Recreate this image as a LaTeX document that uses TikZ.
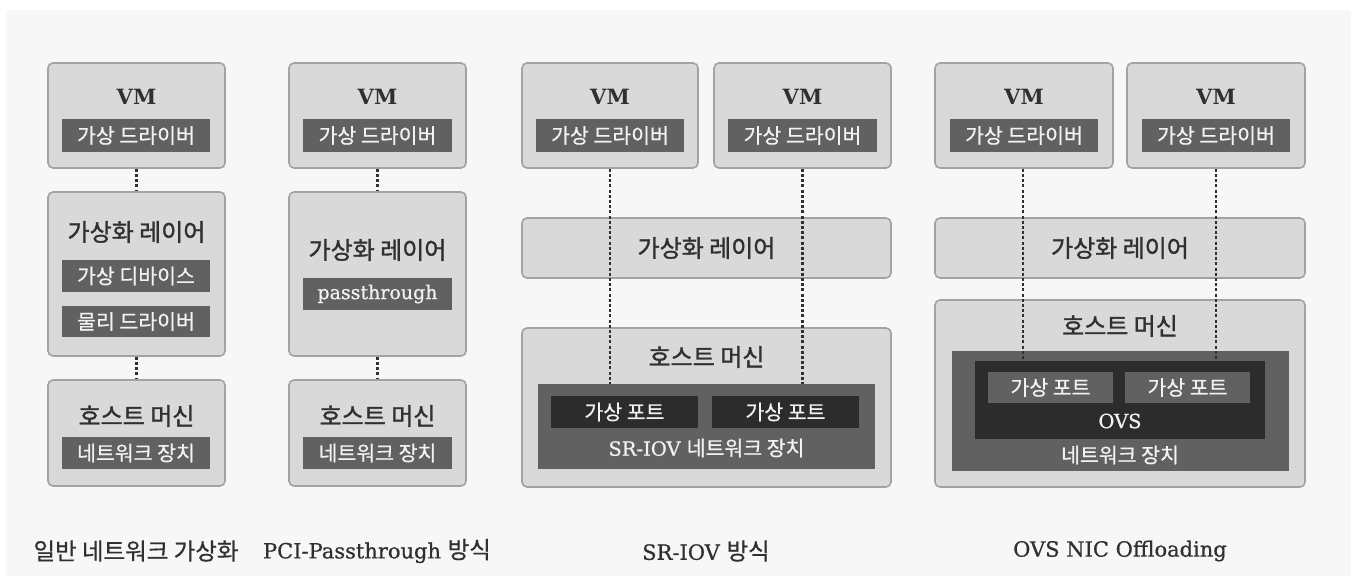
\documentclass[tikz,border=0pt]{standalone}
\usepackage{fontspec}
\setmainfont{DejaVu Serif}
\newfontfamily\lat{DejaVu Serif}[FakeBold=0.7]
\newfontfamily\kr{Noto Sans CJK KR}[FakeBold=0.6]
\newfontfamily\krt{Noto Sans CJK KR}[FakeBold=1.4]
\definecolor{bgpanel}{HTML}{F7F7F7}
\definecolor{boxfill}{HTML}{D9D9D9}
\definecolor{boxline}{HTML}{A3A3A3}
\definecolor{barfill}{HTML}{616161}
\definecolor{darkfill}{HTML}{2C2C2C}
\definecolor{txtdark}{HTML}{303030}
\definecolor{txtlight}{HTML}{F2F2F2}
\tikzset{
  panel/.style={draw=boxline, line width=1.6pt, fill=boxfill, rounded corners=5pt, inner sep=0pt},
  bar/.style={fill=barfill, inner sep=0pt, text=txtlight, font=\kr\fontsize{20.5}{22}\selectfont},
  darkbar/.style={fill=darkfill, inner sep=0pt, text=txtlight, font=\kr\fontsize{20.5}{22}\selectfont},
  vmlabel/.style={text=txtdark, font=\bfseries\fontsize{21}{23}\selectfont, inner sep=0pt},
  title/.style={text=txtdark, font=\krt\fontsize{24}{26}\selectfont, inner sep=0pt},
  sublabel/.style={text=txtlight, font=\lat\fontsize{19.5}{22}\selectfont, inner sep=0pt},
  caption/.style={text=txtdark, font=\lat\fontsize{21}{24}\selectfont, inner sep=0pt},
  link/.style={draw=txtdark, line width=2.2pt, dash pattern=on 3pt off 2.2pt},
}
\begin{document}
\begin{tikzpicture}[x=1pt,y=-1pt]
\useasboundingbox (0,0) rectangle (1351,576);
\fill[white] (0,0) rectangle (1351,576);
\fill[bgpanel] (6,10) rectangle (1351,576);

% ---------- column 1 ----------
\node[panel, minimum width=177pt, minimum height=105pt] (vmA) at (136.5,115.5) {};
\node[vmlabel] (vmAt) at (136.5,97) {VM};
\node[bar, minimum width=148pt, minimum height=33pt] (vmAd) at (136,135.5) {가상 드라이버};
\node[panel, minimum width=177pt, minimum height=164pt] (virA) at (136.5,274) {};
\node[title] (virAt) at (136.5,232) {가상화 레이어};
\node[bar, minimum width=148pt, minimum height=32pt] (virAd) at (136,276) {가상 디바이스};
\node[bar, minimum width=148pt, minimum height=31pt] (virAp) at (136,321.5) {물리 드라이버};
\node[panel, minimum width=177pt, minimum height=106pt] (hostA) at (136.5,433) {};
\node[title] (hostAt) at (136.5,416) {호스트 머신};
\node[bar, minimum width=148pt, minimum height=32pt] (hostAn) at (136,453) {네트워크 장치};
\draw[link] (vmA.south) -- (virA.north);
\draw[link] (virA.south) -- (hostA.north);
\node[caption, font=\kr\fontsize{23.5}{26}\selectfont] (capA) at (136,551) {일반 네트워크 가상화};

% ---------- column 2 ----------
\node[panel, minimum width=177pt, minimum height=105pt] (vmB) at (377.5,115.5) {};
\node[vmlabel] (vmBt) at (377.5,97) {VM};
\node[bar, minimum width=149pt, minimum height=33pt] (vmBd) at (377.5,135.5) {가상 드라이버};
\node[panel, minimum width=177pt, minimum height=164pt] (virB) at (377.5,274) {};
\node[title] (virBt) at (377.5,250) {가상화 레이어};
\node[bar, minimum width=149pt, minimum height=32pt, font=\lat\fontsize{19}{22}\selectfont] (virBp) at (377.5,294) {passthrough};
\node[panel, minimum width=177pt, minimum height=106pt] (hostB) at (377.5,433) {};
\node[title] (hostBt) at (377.5,416) {호스트 머신};
\node[bar, minimum width=149pt, minimum height=32pt] (hostBn) at (377.5,453) {네트워크 장치};
\draw[link] (vmB.south) -- (virB.north);
\draw[link] (virB.south) -- (hostB.north);
\node[caption] (capB) at (377,551) {PCI-Passthrough {\kr\fontsize{23.5}{26}\selectfont 방식}};

% ---------- column 3 ----------
\node[panel, minimum width=176pt, minimum height=105pt] (vmC1) at (610,115.5) {};
\node[vmlabel] (vmC1t) at (610,97) {VM};
\node[bar, minimum width=148pt, minimum height=33pt] (vmC1d) at (610,135.5) {가상 드라이버};
\node[panel, minimum width=177pt, minimum height=105pt] (vmC2) at (802.5,115.5) {};
\node[vmlabel] (vmC2t) at (802.5,97) {VM};
\node[bar, minimum width=149pt, minimum height=33pt] (vmC2d) at (802.5,135.5) {가상 드라이버};
\node[panel, minimum width=369pt, minimum height=60pt] (virC) at (706.5,248) {};
\node[title] (virCt) at (706.5,248) {가상화 레이어};
\node[panel, minimum width=369pt, minimum height=159pt] (hostC) at (706.5,407.5) {};
\node[title] (hostCt) at (706.5,357) {호스트 머신};
\node[bar, minimum width=337pt, minimum height=85pt] (srC) at (706.5,426.5) {};
\node[darkbar, minimum width=147pt, minimum height=32pt] (portC1) at (624.5,412) {가상 포트};
\node[darkbar, minimum width=147pt, minimum height=32pt] (portC2) at (785.5,412) {가상 포트};
\node[sublabel] (srCt) at (706.5,448) {SR-IOV {\kr\fontsize{20.5}{22}\selectfont 네트워크 장치}};
\draw[link] (vmC1.south) -- (vmC1.south |- srC.north);
\draw[link] (vmC2.south) -- (vmC2.south |- srC.north);
\node[caption] (capC) at (706,551) {SR-IOV {\kr\fontsize{23.5}{26}\selectfont 방식}};

% ---------- column 4 ----------
\node[panel, minimum width=178pt, minimum height=105pt] (vmD1) at (1024,115.5) {};
\node[vmlabel] (vmD1t) at (1024,97) {VM};
\node[bar, minimum width=148pt, minimum height=33pt] (vmD1d) at (1024,135.5) {가상 드라이버};
\node[panel, minimum width=178pt, minimum height=105pt] (vmD2) at (1216,115.5) {};
\node[vmlabel] (vmD2t) at (1216,97) {VM};
\node[bar, minimum width=148pt, minimum height=33pt] (vmD2d) at (1216,135.5) {가상 드라이버};
\node[panel, minimum width=370pt, minimum height=60pt] (virD) at (1120,248) {};
\node[title] (virDt) at (1120,248) {가상화 레이어};
\node[panel, minimum width=370pt, minimum height=187pt] (hostD) at (1120,393.5) {};
\node[title] (hostDt) at (1120,326) {호스트 머신};
\node[bar, minimum width=337pt, minimum height=120pt] (netD) at (1120.5,411) {};
\node[darkbar, minimum width=290pt, minimum height=78pt] (ovsD) at (1120,400) {};
\node[bar, minimum width=125pt, minimum height=31pt] (portD1) at (1050.5,387.5) {가상 포트};
\node[bar, minimum width=125pt, minimum height=31pt] (portD2) at (1187.5,387.5) {가상 포트};
\node[sublabel] (ovsDt) at (1120,421) {OVS};
\node[sublabel, font=\kr\fontsize{20.5}{22}\selectfont] (netDt) at (1120,455) {네트워크 장치};
\draw[link] (vmD1.south -| 1023,0) -- (1023,0 |- ovsD.north);
\draw[link] (vmD2.south) -- (vmD2.south |- ovsD.north);
\node[caption] (capD) at (1120,551) {OVS NIC Offloading};
\end{tikzpicture}
\end{document}
